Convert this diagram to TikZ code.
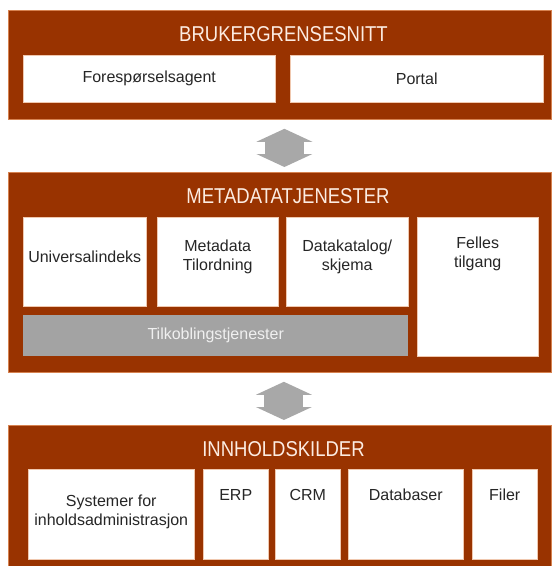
\documentclass[tikz,border=0pt]{standalone}
\usepackage{fontspec}
\setmainfont{Liberation Sans}
\newfontfamily\titlefont[FakeStretch=0.86]{Liberation Sans}
\usetikzlibrary{arrows.meta,positioning}

\definecolor{bandbrown}{RGB}{153,51,0}
\definecolor{bandedge}{RGB}{214,130,80}
\definecolor{celledge}{RGB}{240,200,175}
\definecolor{titletext}{RGB}{252,236,226}
\definecolor{arrowgray}{RGB}{168,168,168}
\definecolor{bargray}{RGB}{163,163,163}
\definecolor{bartext}{RGB}{240,240,240}

\tikzset{
  band/.style={draw=bandedge, fill=bandbrown, line width=0.8pt, anchor=north west, inner sep=0pt},
  cell/.style={draw=celledge, fill=white, line width=0.5pt, anchor=north west, inner sep=0pt,
    font=\fontsize{16}{19}\selectfont, align=center, text=black!85},
  bar/.style={fill=bargray, anchor=north west, inner sep=0pt, text=bartext,
    font=\fontsize{16}{19}\selectfont},
  bandtitle/.style={text=titletext, font=\titlefont\fontsize{21.5}{22}\selectfont},
  celltext/.style={font=\fontsize{16}{19}\selectfont, align=center, text=black!85},
  tipshape/.style={},
  bigarrow/.style={draw=arrowgray, line width=39pt,
    {Triangle[width=56pt,length=13pt,line width=0pt]}-{Triangle[width=56pt,length=13pt,line width=0pt]}}
}

\begin{document}
\begin{tikzpicture}[x=1pt, y=-1pt]
  \useasboundingbox (0,0) rectangle (552,566);

  % brukergrensesnitt
  \node[band, minimum width=543pt, minimum height=109pt] (bru) at (8,10) {};
  \node[bandtitle] (bru title) at (283.5,34.5) {BRUKERGRENSESNITT};
  \node[cell, minimum width=252pt, minimum height=47pt] (agent) at (23,55) {Forespørselsagent};
  \node[cell, minimum width=253pt, minimum height=47pt] (portal) at (290,55) {Portal};

  % metadatatjenester
  \node[band, minimum width=543pt, minimum height=200pt] (meta) at (8,172) {};
  \node[bandtitle] (meta title) at (288,196) {METADATATJENESTER};
  \node[cell, minimum width=123pt, minimum height=89pt] (univ) at (23,217) {};
  \node[cell, minimum width=121pt, minimum height=89pt] (map) at (157,217) {};
  \node[cell, minimum width=122pt, minimum height=89pt] (katalog) at (286,217) {};
  \node[cell, minimum width=121pt, minimum height=139pt] (felles) at (417,217) {};
  \node[bar, minimum width=385pt, minimum height=41pt] (tilkobling) at (23,315) {Tilkoblingstjenester};
  \node[celltext] at ([yshift=-40pt]univ.north) {Universalindeks};
  \node[celltext] at ([yshift=-40pt]map.north) {Metadata\\Tilordning};
  \node[celltext] at ([yshift=-40pt]katalog.north) {Datakatalog/\\skjema};
  \node[celltext] at ([yshift=-37pt]felles.north) {Felles\\tilgang};

  % innholdskilder
  \node[band, minimum width=543pt, minimum height=155pt] (kilder) at (8,425) {};
  \node[bandtitle] (kilder title) at (283.5,449.5) {INNHOLDSKILDER};
  \node[cell, minimum width=166pt, minimum height=90pt] (sys) at (28,469) {};
  \node[cell, minimum width=65pt, minimum height=90pt] (erp) at (203,469) {};
  \node[cell, minimum width=65pt, minimum height=90pt] (crm) at (275,469) {};
  \node[cell, minimum width=115pt, minimum height=90pt] (db) at (348,469) {};
  \node[cell, minimum width=65pt, minimum height=90pt] (filer) at (472,469) {};
  \node[celltext] at ([yshift=-42.5pt]sys.north) {Systemer for\\inholdsadministrasjon};
  \node[celltext] at ([yshift=-26pt]erp.north) {ERP};
  \node[celltext] at ([yshift=-26pt]crm.north) {CRM};
  \node[celltext] at ([yshift=-26pt]db.north) {Databaser};
  \node[celltext] at ([yshift=-26pt]filer.north) {Filer};

  % piler mellom lagene
  \draw[bigarrow] ([xshift=4.5pt,yshift=-9pt]bru.south) -- ([xshift=4.5pt,yshift=5pt]meta.north);
  \draw[bigarrow] ([xshift=4pt,yshift=-9pt]meta.south) -- ([xshift=4pt,yshift=5pt]kilder.north);
\end{tikzpicture}
\end{document}
